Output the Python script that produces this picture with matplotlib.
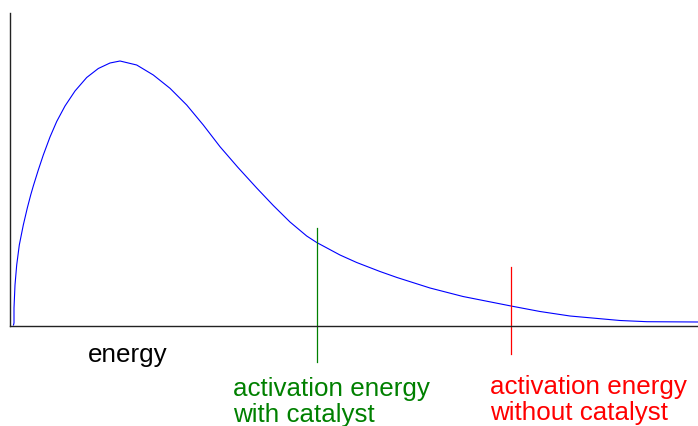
import matplotlib
matplotlib.use("Agg")
import matplotlib.pyplot as plt

# Kurve (Energie, Anzahl)
energia = [4, 4.5, 4.5, 5.5, 7.2, 9.8, 13.8, 17.8, 21.2, 23.8, 28.8, 33.8, 40.5,
           47.2, 55.5, 65.5, 77.2, 88.8, 100.5, 110.5, 127.2, 143.8, 160.5,
           177.2, 193.8, 210.5, 228.5, 247.2, 263.8, 280.5, 297.2, 307.2,
           330.5, 347.2, 370.5, 387.5, 420.5, 453.5, 501.5, 530.5, 560.5,
           610.5, 637.5, 688.5]
contagem = [1, 3, 18, 41, 61, 81, 101, 118, 131, 140, 156, 171, 189,
            204.5, 220, 235, 248.5, 257.5, 263, 265, 261, 251, 237.7,
            221, 201, 179.3, 158.5, 138, 120.5, 104, 90, 83.5,
            71, 63.5, 54.5, 48.5, 38, 29.5, 20, 14.5, 10,
            5.5, 4.3, 4]

e_catalisador = 307
e_sem_catalisador = 501.5
linha_cat = [-36, 98]
linha_sem = [-28, 59]

fig = plt.figure(figsize=(6.98, 4.26), dpi=100)
ax = fig.add_axes([9.5 / 698, 100 / 426, 688.5 / 698, 313.3 / 426])

ax.plot(energia, contagem, color="#0000ff", lw=0.8)
ax.plot([e_catalisador] * 2, linha_cat, color="#008000", lw=0.9, clip_on=False)
ax.plot([e_sem_catalisador] * 2, linha_sem, color="#ff0000", lw=0.9, clip_on=False)

ax.set_xlim(0, 688.5)
ax.set_ylim(0, 313.3)
ax.set_xticks([])
ax.set_yticks([])
for s in ["top", "right"]:
    ax.spines[s].set_visible(False)
for s in ["left", "bottom"]:
    ax.spines[s].set_linewidth(1.0)
    ax.spines[s].set_color("#222222")

fonte = dict(family="Liberation Sans", fontsize=18.7, ha="left", va="baseline",
             clip_on=False, linespacing=1.1)
ax.text(78.5, -36, "energy", color="black", **fonte)
# va=baseline -> baseline da última linha
ax.text(223.5, -95.7, "activation energy\nwith catalyst", color="#008000", **fonte)
ax.text(481, -94, "activation energy\nwithout catalyst", color="#ff0000", **fonte)

fig.savefig("out.png", dpi=100)
